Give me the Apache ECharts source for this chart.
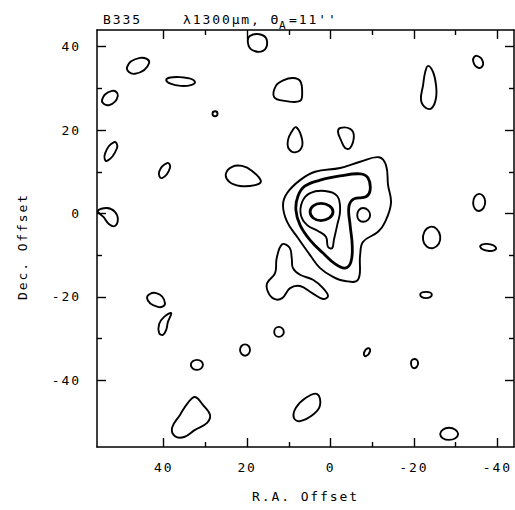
<!DOCTYPE html>
<html>
<head>
<meta charset="utf-8">
<script src="https://cdn.jsdelivr.net/npm/echarts@6/dist/echarts.min.js"></script>
<style>
html, body { margin: 0; padding: 0; background: #fff; }
#chart { width: 515px; height: 510px; }
/* plotter-style wide lettering */
#chart text { letter-spacing: 1.9px; }
</style>
</head>
<body>
<div id="chart"></div>
<script>
// offsets in arcsec: [R.A., Dec.]
var raRange = [-44, 56];
var decRange = [-56, 44];
var majorTicks = [-40, -20, 0, 20, 40];
var minorTicks = [-30, -10, 10, 30];

// lowest contour level (isolated patches + outer envelope of the core)
var level1 = [
  [[19.3,42.6],[16.4,42.8],[15.2,41.1],[16.2,39.0],[18.8,39.2],[19.8,40.9]],
  [[43.5,36.1],[45.7,37.3],[48.8,35.1],[46.9,33.5]],
  [[32.5,31.5],[36.1,32.7],[39.4,32.0],[35.9,30.6]],
  [[51.0,28.2],[52.4,29.4],[54.8,27.2],[53.1,26.0]],
  [[27.1,23.9],[27.7,24.5],[28.3,23.9],[27.7,23.3]],
  [[51.2,15.7],[51.9,17.1],[54.1,14.3],[53.6,12.6]],
  [[38.5,10.9],[39.2,12.1],[41.1,10.0],[40.4,8.5]],
  [[25.1,9.5],[23.6,11.2],[21.2,11.4],[18.8,10.2],[16.7,7.8],[18.1,6.8],[21.7,6.6],[24.3,7.6]],
  [[11.2,32.0],[9.0,32.5],[7.3,31.8],[6.8,29.1],[7.3,27.0],[10.9,27.0],[13.5,27.9],[13.1,30.6]],
  [[8.3,20.7],[7.1,18.8],[6.8,16.2],[8.3,14.7],[10.0,15.5],[10.2,17.6],[9.2,19.8]],
  [[55.8,0.6],[53.6,1.3],[51.7,0.4],[51.0,-1.4],[51.7,-3.0],[53.1,-2.6],[54.4,-0.9]],
  [[-36.6,36.1],[-35.1,37.8],[-34.2,36.6],[-35.6,34.9]],
  [[-23.4,35.4],[-24.6,33.9],[-25.3,30.8],[-25.3,27.7],[-24.3,25.3],[-22.9,25.3],[-21.7,27.2],[-22.2,30.8],[-22.7,33.9]],
  [[-2.3,20.5],[-4.7,20.3],[-5.6,18.6],[-4.7,15.7],[-3.5,15.7],[-2.5,17.6],[-1.8,19.5]],
  [[-37.1,2.8],[-35.6,4.7],[-34.2,2.5],[-35.6,0.6]],
  [[-26.3,-5.4],[-23.9,-3.2],[-22.2,-6.4],[-24.6,-8.3]],
  [[-39.7,-8.3],[-37.5,-7.3],[-35.9,-8.0],[-38.0,-9.0]],
  [[-24.3,-19.5],[-22.9,-18.8],[-21.5,-19.5],[-22.9,-20.3]],
  [[-9.5,-33.0],[-9.0,-32.3],[-8.0,-33.5],[-8.5,-34.2]],
  [[-21.0,-35.9],[-20.1,-34.9],[-19.3,-35.9],[-20.1,-37.1]],
  [[-30.6,-52.9],[-28.4,-51.4],[-26.3,-52.9],[-28.4,-54.3]],
  [[3.2,-43.3],[2.5,-45.9],[4.0,-48.1],[7.3,-49.8],[8.8,-49.0],[8.3,-46.6],[5.9,-44.2]],
  [[39.7,-21.5],[41.8,-19.1],[44.0,-20.3],[41.4,-22.4]],
  [[38.2,-23.9],[39.0,-26.0],[39.4,-27.9],[40.2,-29.1],[41.1,-28.7],[41.1,-26.5],[39.9,-24.8]],
  [[11.2,-28.4],[12.4,-27.2],[13.5,-28.4],[12.4,-29.6]],
  [[19.3,-32.7],[20.5,-31.4],[21.7,-32.7],[20.5,-34.1]],
  [[30.6,-36.3],[32.0,-35.1],[33.5,-36.3],[32.0,-37.5]],
  [[32.5,-44.0],[30.6,-45.9],[28.9,-48.3],[29.6,-50.2],[32.5,-51.9],[35.1,-53.6],[37.3,-53.4],[38.0,-51.4],[36.1,-48.3],[34.2,-45.4]],
  [[11.6,-7.4],[9.8,-8.2],[9.3,-10.7],[9.0,-13.1],[7.3,-14.7],[4.2,-15.9],[1.8,-17.9],[0.6,-19.8],[1.8,-20.5],[4.4,-19.1],[7.3,-17.4],[9.7,-17.9],[11.6,-20.3],[13.5,-20.5],[15.0,-18.8],[15.2,-16.7],[13.3,-14.3],[12.9,-10.7]],
  [[-11.6,13.5],[-13.3,11.6],[-13.8,6.8],[-14.5,2.5],[-13.1,-2.0],[-11.4,-4.4],[-7.8,-6.8],[-7.1,-10.0],[-6.6,-15.9],[-3.5,-16.2],[-0.6,-15.2],[2.5,-13.1],[4.9,-10.0],[7.8,-5.9],[10.4,-2.0],[11.4,2.0],[10.4,4.9],[7.3,8.0],[3.7,10.0],[-2.3,10.9],[-7.1,12.4]],
  [[-9.5,-0.4],[-7.8,1.3],[-6.4,-0.4],[-7.8,-2.0]]
];
var level2 = [
  [[6.1,6.6],[2.5,8.0],[-2.3,9.0],[-7.1,9.5],[-9.0,8.5],[-9.5,5.6],[-8.5,4.0],[-5.6,3.5],[-4.4,1.6],[-4.7,-2.8],[-5.2,-7.6],[-4.9,-11.6],[-3.5,-13.1],[-1.1,-12.1],[1.8,-9.5],[4.9,-6.4],[7.3,-2.8],[8.3,0.8],[7.8,4.2]]
];
var level3 = [
  [[4.9,4.9],[1.3,5.4],[-1.6,4.2],[-2.3,0.8],[-1.6,-2.8],[-0.8,-6.4],[-0.4,-8.3],[0.6,-8.0],[1.1,-5.6],[3.0,-4.2],[5.6,-2.8],[7.1,-0.4],[6.8,2.8]]
];
var level4 = [
  [[-0.6,0.4],[2.3,2.4],[4.9,0.4],[2.3,-1.7]]
];

var ink = '#000';
var font = 'DejaVu Sans Mono';

function contourSeries(list, width) {
  return {
    type: 'custom',
    coordinateSystem: 'cartesian2d',
    xAxisIndex: 0,
    yAxisIndex: 0,
    silent: true,
    data: list.map(function (pts, i) { return [pts[0][0], pts[0][1], i]; }),
    encode: { x: 0, y: 1 },
    renderItem: function (params, api) {
      var pts = list[params.dataIndex].map(function (p) { return api.coord(p); });
      return {
        type: 'polygon',
        shape: { points: pts, smooth: pts.length <= 4 ? 0.55 : 0.4 },
        style: { fill: 'none', stroke: ink, lineWidth: width, lineJoin: 'round' }
      };
    }
  };
}

function axis(kind, gridIndex, pos, ticks, len, main, labels) {
  var range = kind === 'x' ? raRange : decRange;
  return {
    type: 'value',
    gridIndex: gridIndex,
    position: pos,
    min: range[0],
    max: range[1],
    inverse: kind === 'x',
    axisLine: { show: main, onZero: false, lineStyle: { color: ink, width: 1.5 } },
    axisTick: { show: true, inside: true, length: len, customValues: ticks,
      lineStyle: { color: ink, width: 1.4 } },
    axisLabel: { show: labels, customValues: ticks, color: ink, fontFamily: font,
      fontSize: 13, margin: kind === 'x' ? 14 : 16 },
    splitLine: { show: false }
  };
}

var xMain = axis('x', 0, 'bottom', majorTicks, 9, true, true);
xMain.name = 'R.A. Offset';
xMain.nameLocation = 'middle';
xMain.nameGap = 43;
xMain.nameTextStyle = { color: ink, fontFamily: font, fontSize: 13 };

var yMain = axis('y', 0, 'left', majorTicks, 9, true, true);
yMain.name = 'Dec. Offset';
yMain.nameLocation = 'middle';
yMain.nameGap = 68;
yMain.nameTextStyle = { color: ink, fontFamily: font, fontSize: 13, padding: [0, 16, 0, 0] };

var gridBox = { left: 97, right: 1, top: 30, bottom: 63 };

var chart = echarts.init(document.getElementById('chart'), null, { renderer: 'svg' });
chart.setOption({
  animation: false,
  backgroundColor: '#fff',
  grid: [
    Object.assign({}, gridBox),
    Object.assign({}, gridBox)
  ],
  xAxis: [
    xMain,
    axis('x', 0, 'top', majorTicks, 9, true, false),
    axis('x', 1, 'bottom', minorTicks, 5, false, false),
    axis('x', 1, 'top', minorTicks, 5, false, false)
  ],
  yAxis: [
    yMain,
    axis('y', 0, 'right', majorTicks, 9, true, false),
    axis('y', 1, 'left', minorTicks, 5, false, false),
    axis('y', 1, 'right', minorTicks, 5, false, false)
  ],
  graphic: [
    { type: 'text', left: 103, top: 13, style: { text: 'B335', fill: ink, fontFamily: font, fontSize: 13 } },
    { type: 'text', left: 183, top: 13, style: { text: 'λ1300μm, Θ', fill: ink, fontFamily: font, fontSize: 13 } },
    { type: 'text', left: 279, top: 20, style: { text: 'A', fill: ink, fontFamily: font, fontSize: 11 } },
    { type: 'text', left: 289, top: 13, style: { text: "=11''", fill: ink, fontFamily: font, fontSize: 13 } }
  ],
  series: [
    contourSeries(level1, 1.9),
    contourSeries(level2, 2.8),
    contourSeries(level3, 1.9),
    contourSeries(level4, 2.8)
  ]
});
</script>
</body>
</html>
